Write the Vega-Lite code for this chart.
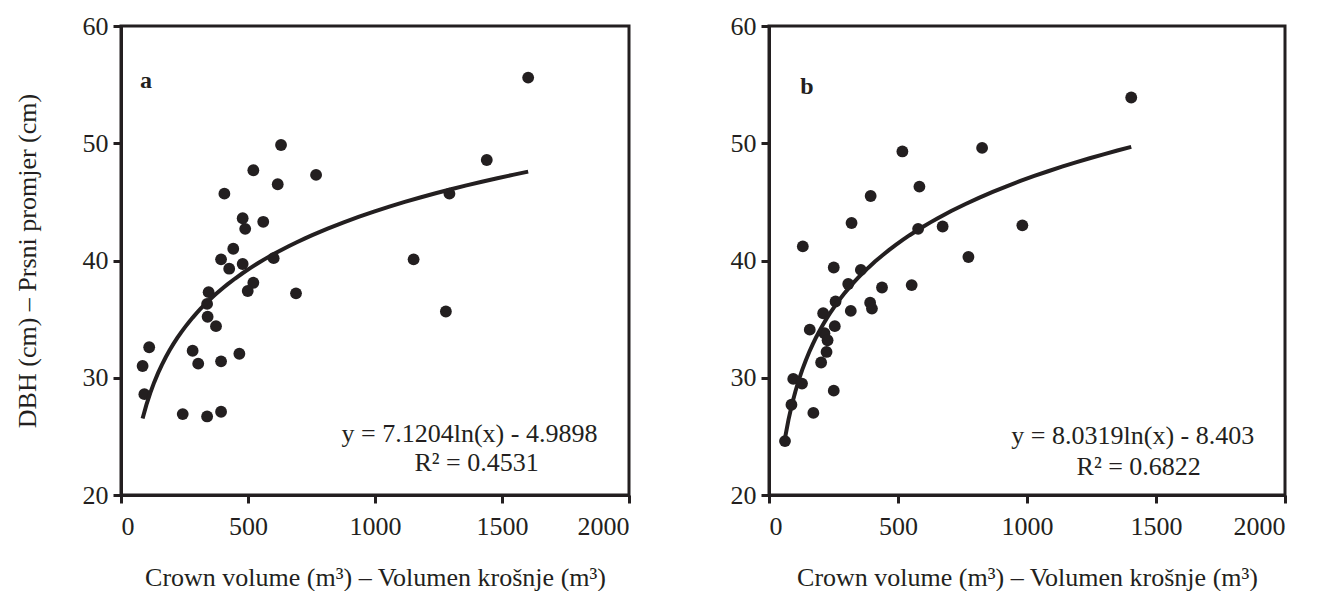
{
  "$schema": "https://vega.github.io/schema/vega-lite/v6.json",
  "background": "white",
  "padding": {"left": 12, "top": 11, "right": 5, "bottom": 5},
  "bounds": "flush",
  "spacing": 140,
  "config": {
    "font": "Liberation Serif",
    "view": {"stroke": "#231f20", "strokeWidth": 3},
    "axis": {
      "grid": false,
      "domainColor": "#231f20",
      "domainWidth": 3,
      "tickColor": "#231f20",
      "tickWidth": 3,
      "tickSize": 8,
      "labelFont": "Liberation Serif",
      "labelFontSize": 26,
      "labelColor": "#231f20",
      "labelPadding": 5,
      "titleFont": "Liberation Serif",
      "titleFontSize": 26,
      "titleFontWeight": "normal",
      "titleColor": "#231f20"
    },
    "text": {"font": "Liberation Serif", "color": "#231f20", "align": "center", "baseline": "middle"}
  },
  "datasets": {
    "a": [
      {"vol": 630, "dbh": 49.85}, {"vol": 521, "dbh": 47.7}, {"vol": 768, "dbh": 47.3},
      {"vol": 617, "dbh": 46.5}, {"vol": 407, "dbh": 45.7}, {"vol": 479, "dbh": 43.6},
      {"vol": 489, "dbh": 42.7}, {"vol": 560, "dbh": 43.3}, {"vol": 442, "dbh": 41.0},
      {"vol": 394, "dbh": 40.1}, {"vol": 426, "dbh": 39.3}, {"vol": 479, "dbh": 39.7},
      {"vol": 601, "dbh": 40.2}, {"vol": 521, "dbh": 38.1}, {"vol": 499, "dbh": 37.4},
      {"vol": 689, "dbh": 37.2}, {"vol": 345, "dbh": 37.3}, {"vol": 339, "dbh": 36.3},
      {"vol": 341, "dbh": 35.2}, {"vol": 374, "dbh": 34.4}, {"vol": 111, "dbh": 32.6},
      {"vol": 282, "dbh": 32.3}, {"vol": 304, "dbh": 31.2}, {"vol": 394, "dbh": 31.4},
      {"vol": 466, "dbh": 32.05}, {"vol": 85, "dbh": 31.0}, {"vol": 92, "dbh": 28.6},
      {"vol": 243, "dbh": 26.9}, {"vol": 339, "dbh": 26.7}, {"vol": 394, "dbh": 27.1},
      {"vol": 1440, "dbh": 48.57}, {"vol": 1293, "dbh": 45.7}, {"vol": 1152, "dbh": 40.1},
      {"vol": 1279, "dbh": 35.65}, {"vol": 1603, "dbh": 55.6}
    ],
    "b": [
      {"vol": 1404, "dbh": 53.9}, {"vol": 517, "dbh": 49.3}, {"vol": 826, "dbh": 49.6},
      {"vol": 583, "dbh": 46.3}, {"vol": 394, "dbh": 45.5}, {"vol": 320, "dbh": 43.2},
      {"vol": 673, "dbh": 42.9}, {"vol": 578, "dbh": 42.7}, {"vol": 982, "dbh": 43.0},
      {"vol": 131, "dbh": 41.2}, {"vol": 773, "dbh": 40.3}, {"vol": 251, "dbh": 39.4},
      {"vol": 356, "dbh": 39.2}, {"vol": 307, "dbh": 38.0}, {"vol": 438, "dbh": 37.7},
      {"vol": 553, "dbh": 37.9}, {"vol": 392, "dbh": 36.4}, {"vol": 399, "dbh": 35.9},
      {"vol": 317, "dbh": 35.7}, {"vol": 258, "dbh": 36.5}, {"vol": 210, "dbh": 35.5},
      {"vol": 255, "dbh": 34.4}, {"vol": 158, "dbh": 34.1}, {"vol": 215, "dbh": 33.8},
      {"vol": 227, "dbh": 33.2}, {"vol": 223, "dbh": 32.2}, {"vol": 202, "dbh": 31.3},
      {"vol": 94, "dbh": 29.9}, {"vol": 128, "dbh": 29.5}, {"vol": 251, "dbh": 28.9},
      {"vol": 87, "dbh": 27.7}, {"vol": 172, "dbh": 27.0}, {"vol": 62, "dbh": 24.6}
    ]
  },
  "hconcat": [
    {
      "width": 508,
      "height": 469,
      "layer": [
        {"data": {"name": "a"},
          "mark": {"type": "circle", "size": 140, "opacity": 1, "color": "#231f20"},
          "encoding": {
            "x": {"field": "vol", "type": "quantitative",
              "scale": {"domain": [0, 2000], "nice": false},
              "axis": {"values": [0, 500, 1000, 1500, 2000], "format": "d", "title": "Crown volume (m³) – Volumen krošnje (m³)", "titlePadding": 25, "labelPadding": 10}},
            "y": {"field": "dbh", "type": "quantitative",
              "scale": {"domain": [20, 60], "nice": false, "zero": false},
              "axis": {"values": [20, 30, 40, 50, 60], "title": "DBH (cm) – Prsni promjer (cm)", "titlePadding": 42}}
          }},
        {"data": {"name": "a"},
          "transform": [{"regression": "dbh", "on": "vol", "method": "log"}],
          "mark": {"type": "line", "color": "#231f20", "strokeWidth": 4},
          "encoding": {
            "x": {"field": "vol", "type": "quantitative"},
            "y": {"field": "dbh", "type": "quantitative"}
          }},
        {"data": {"values": [{"label": "a"}]},
          "mark": {"type": "text", "fontWeight": "bold", "fontSize": 24},
          "encoding": {"x": {"datum": 98}, "y": {"datum": 55.3}, "text": {"field": "label"}}},
        {"data": {"values": [{"label": "y = 7.1204ln(x) - 4.9898"}]},
          "mark": {"type": "text", "fontSize": 26},
          "encoding": {"x": {"datum": 1372}, "y": {"datum": 25.24}, "text": {"field": "label"}}},
        {"data": {"values": [{"label": "R² = 0.4531"}]},
          "mark": {"type": "text", "fontSize": 26},
          "encoding": {"x": {"datum": 1400}, "y": {"datum": 22.73}, "text": {"field": "label"}}}
      ]
    },
    {
      "width": 516,
      "height": 469,
      "layer": [
        {"data": {"name": "b"},
          "mark": {"type": "circle", "size": 140, "opacity": 1, "color": "#231f20"},
          "encoding": {
            "x": {"field": "vol", "type": "quantitative",
              "scale": {"domain": [0, 2000], "nice": false},
              "axis": {"values": [0, 500, 1000, 1500, 2000], "format": "d", "title": "Crown volume (m³) – Volumen krošnje (m³)", "titlePadding": 25, "labelPadding": 10}},
            "y": {"field": "dbh", "type": "quantitative",
              "scale": {"domain": [20, 60], "nice": false, "zero": false},
              "axis": {"values": [20, 30, 40, 50, 60], "title": null}}
          }},
        {"data": {"name": "b"},
          "transform": [{"regression": "dbh", "on": "vol", "method": "log"}],
          "mark": {"type": "line", "color": "#231f20", "strokeWidth": 4},
          "encoding": {
            "x": {"field": "vol", "type": "quantitative"},
            "y": {"field": "dbh", "type": "quantitative"}
          }},
        {"data": {"values": [{"label": "b"}]},
          "mark": {"type": "text", "fontWeight": "bold", "fontSize": 24},
          "encoding": {"x": {"datum": 147}, "y": {"datum": 54.76}, "text": {"field": "label"}}},
        {"data": {"values": [{"label": "y = 8.0319ln(x) - 8.403"}]},
          "mark": {"type": "text", "fontSize": 26},
          "encoding": {"x": {"datum": 1410}, "y": {"datum": 24.99}, "text": {"field": "label"}}},
        {"data": {"values": [{"label": "R² = 0.6822"}]},
          "mark": {"type": "text", "fontSize": 26},
          "encoding": {"x": {"datum": 1433}, "y": {"datum": 22.43}, "text": {"field": "label"}}}
      ]
    }
  ]
}
